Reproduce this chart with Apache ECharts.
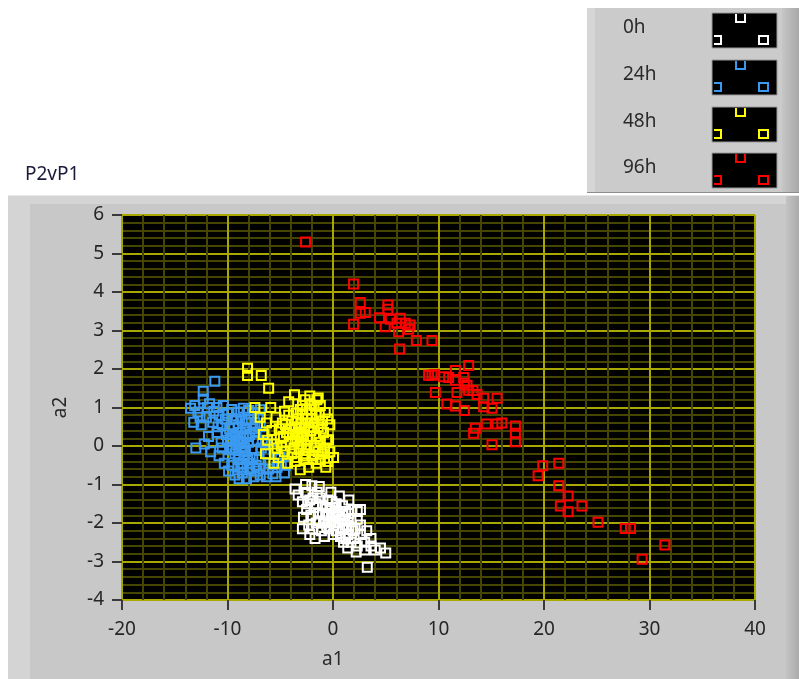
<!DOCTYPE html>
<html>
<head>
<meta charset="utf-8">
<script src="https://cdn.jsdelivr.net/npm/echarts@6/dist/echarts.min.js"></script>
<style>
html,body{margin:0;padding:0;background:#fff;}
#c{width:799px;height:679px;}
</style>
</head>
<body>
<div id="c"></div>
<script>
var seriesNames = ['0h', '24h', '48h', '96h'];
var seriesColors = ['#ffffff', '#3a9af2', '#ffff00', '#ff0000'];

var pts0h = [
[-3.6,-1.12],[-2.0,-1.03],[-3.3,-1.27],[-2.6,-1.2],[-1.5,-1.2],[-2.9,-1.45],[-2.2,-1.4],[-1.2,-1.35],[-0.5,-1.4],
[-2.5,-1.65],[-1.8,-1.6],[-1.0,-1.55],[-0.3,-1.6],[0.3,-1.5],[0.9,-1.55],[-2.8,-1.85],[-2.1,-1.8],[-1.4,-1.75],
[-0.7,-1.8],[0.0,-1.75],[0.6,-1.8],[1.2,-1.7],[1.8,-1.65],[2.3,-1.7],[-2.9,-2.15],[-2.3,-2.05],[-1.6,-2.0],
[-0.9,-2.0],[-0.2,-1.95],[0.5,-2.0],[1.1,-1.95],[1.7,-1.9],[2.3,-1.9],[-2.2,-2.3],[-1.7,-2.4],[-1.1,-2.2],
[-0.4,-2.15],[0.3,-2.2],[0.9,-2.15],[1.5,-2.1],[2.1,-2.15],[2.6,-2.05],[-0.8,-2.35],[0.0,-2.3],[0.7,-2.35],
[1.4,-2.3],[2.0,-2.4],[2.6,-2.3],[1.0,-2.5],[1.7,-2.5],[2.3,-2.6],[3.0,-2.5],[3.6,-2.4],[1.4,-2.65],
[2.2,-2.75],[3.0,-2.7],[3.6,-2.6],[4.0,-2.7],[4.5,-2.65],[5.0,-2.78],[3.25,-3.15],[-1.3,-1.05],[-0.2,-1.2],
[0.6,-1.3],[1.5,-1.4],[-2.6,-1.0],[-1.9,-2.15],[-0.6,-1.6],[0.3,-1.85],[1.3,-2.05],[2.6,-1.65],[3.2,-2.2],
[-1.6,-1.5],[-1.0,-1.75],[-0.4,-1.8],[0.2,-1.6],[0.9,-1.8],[-1.3,-1.95],[-0.6,-2.1],[0.1,-2.05],[0.8,-1.9],
[1.5,-1.75],[-1.9,-1.35],[-2.4,-1.5],[1.9,-2.2],[1.2,-2.4],[-0.1,-1.45],[0.5,-1.7]
];

var pts24h = [
[-11.2,1.68],[-12.3,1.42],[-12.3,1.22],[-13.1,1.05],[-13.5,0.98],[-12.8,0.88],[-11.7,1.1],[-11.0,1.0],[-10.4,1.05],
[-12.0,0.75],[-13.2,0.62],[-12.5,0.55],[-11.4,0.62],[-10.8,0.8],[-10.2,0.7],[-9.6,0.95],[-9.0,0.88],[-8.5,0.98],
[-8.0,0.92],[-7.5,0.85],[-7.1,0.75],[-9.8,0.45],[-11.0,0.35],[-11.8,0.25],[-12.2,0.05],[-13.0,-0.05],[-11.6,-0.15],
[-10.8,-0.25],[-10.0,0.15],[-9.4,0.55],[-8.8,0.35],[-8.2,0.6],[-7.6,0.45],[-6.9,0.5],[-6.5,0.3],[-7.2,0.15],
[-8.0,0.1],[-8.7,-0.05],[-9.3,-0.2],[-9.0,-0.35],[-8.4,-0.25],[-7.7,-0.1],[-6.8,-0.05],[-6.2,-0.2],[-5.6,-0.1],
[-5.0,-0.3],[-4.5,-0.5],[-4.6,-0.7],[-5.3,-0.55],[-6.0,-0.45],[-6.6,-0.6],[-7.3,-0.5],[-7.9,-0.6],[-8.6,-0.7],
[-9.3,-0.75],[-9.9,-0.65],[-10.3,-0.45],[-9.6,-0.5],[-8.9,-0.85],[-8.2,-0.85],[-7.5,-0.8],[-6.9,-0.75],[-6.3,-0.8],
[-5.7,-0.72],[-10.6,0.1],[-9.1,0.1],[-8.5,0.2],[-7.9,0.3],[-9.5,-0.05],[-8.9,-0.25],[-9.2,0.7],[-10.1,0.3],
[-8.6,-0.45],[-8.1,-0.35],[-9.0,-0.55],[-7.6,-0.3],[-9.3,0.25],[-8.3,0.45],[-7.0,-0.35],[-6.4,0.05],[-6.9,0.94],
[-9.8,-0.1],[-9.5,0.3],[-9.0,0.5],[-8.6,0.65],[-8.0,0.7],[-7.4,0.6],[-10.5,0.55],[-10.0,0.85],[-9.6,0.7],
[-8.4,-0.05],[-7.9,-0.45],[-7.2,-0.65],[-8.5,-0.55],[-9.0,0.15],[-8.2,0.25],[-7.3,0.35],[-6.7,0.1],[-6.1,-0.6],
[-5.4,-0.8],[-4.9,-0.45],[-10.9,0.5],[-11.3,0.9],[-12.6,0.75],[-11.9,1.0],[-10.5,-0.05],[-9.7,0.2],[-8.8,0.05],
[-8.3,-0.15],[-9.2,-0.1],[-8.7,0.1]
];

var pts48h = [
[-8.1,2.02],[-8.1,1.83],[-6.8,1.83],[-6.1,1.5],[-7.4,1.0],[-6.9,0.75],[-6.3,0.6],[-5.8,0.4],[-5.4,0.75],
[-4.8,0.6],[-4.2,1.15],[-3.65,1.33],[-3.1,0.95],[-2.64,1.2],[-2.2,1.3],[-1.53,1.2],[-1.2,1.05],[-0.74,0.87],
[-1.6,0.8],[-2.4,0.7],[-3.0,0.6],[-3.6,0.5],[-4.4,0.35],[-5.0,0.2],[-5.6,0.05],[-6.2,0.15],[-6.6,0.3],
[-4.0,0.1],[-3.4,0.2],[-2.8,0.3],[-2.1,0.4],[-1.4,0.5],[-0.9,0.35],[-0.42,0.16],[-1.2,0.1],[-1.8,0.0],
[-2.5,-0.05],[-3.2,-0.1],[-3.9,-0.2],[-4.6,-0.15],[-5.2,-0.3],[-4.3,-0.45],[-3.6,-0.4],[-3.1,-0.62],[-2.7,-0.35],
[-2.0,-0.25],[-1.4,-0.15],[-0.8,-0.05],[0.05,-0.3],[-0.5,-0.4],[-0.68,-0.55],[-1.6,-0.45],[-2.3,-0.55],[-3.5,0.85],
[-2.9,1.05],[-4.6,0.9],[-5.9,1.0],[-2.0,0.95],[-1.0,0.65],[-0.3,0.55],[-1.8,0.6],[-2.7,0.45],[-3.3,0.35],
[-3.9,0.65],[-4.5,0.55],[-5.1,0.45],[-2.4,0.15],[-3.0,0.05],[-1.6,0.25],[-0.6,0.15],[-3.7,-0.05],[-4.9,0.0],
[-5.6,-0.45],[-6.4,-0.2],[-2.6,-0.2],[-1.2,-0.35],[-2.9,0.8],[-2.2,1.1],[-1.4,1.25],
[-3.8,0.3],[-3.2,0.45],[-2.6,0.6],[-2.0,0.7],[-1.3,0.8],[-3.4,0.7],[-2.5,0.95],[-1.8,1.05],[-4.2,0.8],
[-2.2,0.25],[-1.6,-0.05],[-2.8,-0.25],[-3.4,-0.3],[-1.0,-0.2],[-0.3,-0.15],[-1.9,-0.35],[-4.1,0.45],[-5.3,-0.05],
[-4.7,0.25],[-1.1,0.45],[-0.5,0.7],[-2.3,0.5],[-3.0,0.25],[-3.6,0.15]
];

var pts96h = [
[-2.6,5.3],[1.95,4.21],[2.58,3.73],[3.06,3.47],[2.58,3.45],[1.95,3.16],[5.2,3.66],[5.2,3.55],[4.41,3.33],
[4.95,3.1],[5.43,3.29],[6.06,3.19],[6.37,3.32],[6.85,3.19],[7.32,3.14],[6.22,2.97],[7.17,3.03],[7.9,2.74],
[9.38,2.74],[6.3,2.52],
[12.86,2.09],[9.38,1.84],[9.06,1.84],[9.63,1.86],[10.49,1.8],[10.96,1.78],[11.6,1.96],[11.6,1.71],[12.39,1.78],
[12.45,1.63],[12.7,1.58],[12.86,1.45],[9.7,1.39],[11.75,1.39],[13.27,1.44],[13.65,1.34],[14.28,1.24],[15.55,1.24],
[10.8,1.09],[11.6,1.04],[12.45,0.92],[14.28,1.02],[15.07,0.98],[14.53,0.57],[15.55,0.57],[16.0,0.6],[13.49,0.46],
[13.33,0.33],[17.29,0.52],[17.29,0.33],[17.29,0.11],[15.07,0.03],
[19.88,-0.51],[19.44,-0.77],[21.4,-0.45],[21.4,-1.03],[22.28,-1.3],[21.55,-1.56],[22.28,-1.71],[23.6,-1.56],
[25.12,-1.98],[27.7,-2.14],[28.2,-2.14],[31.45,-2.57],[29.3,-2.94]
];

var allPts = [pts0h, pts24h, pts48h, pts96h];

var FONT = 'Noto Sans';
var chart = echarts.init(document.getElementById('c'), null, {renderer: 'canvas'});

var graphics = [
  {type:'rect', z:-10, shape:{x:8,y:195,width:791,height:484}, style:{fill:'#d4d4d4'}},
  {type:'rect', z:-9, shape:{x:30,y:204,width:756,height:475}, style:{fill:'#c8c8c8'}},
  {type:'rect', z:-9, shape:{x:786,y:195,width:13,height:484},
   style:{fill:new echarts.graphic.LinearGradient(0,0,1,0,[{offset:0,color:'#c4c4c4'},{offset:1,color:'#ababab'}])}},
  {type:'line', z:-8, shape:{x1:8,y1:195.5,x2:799,y2:195.5}, style:{stroke:'#e8e8e8',lineWidth:1}},
  {type:'rect', z:-10, shape:{x:587,y:8,width:212,height:185}, style:{fill:'#cbcbcb'}},
  {type:'rect', z:-9, shape:{x:587,y:8,width:8,height:185}, style:{fill:'#d6d6d6'}},
  {type:'rect', z:-9, shape:{x:782,y:8,width:17,height:185},
   style:{fill:new echarts.graphic.LinearGradient(0,0,1,0,[{offset:0,color:'#c6c6c6'},{offset:1,color:'#a8a8a8'}])}},
  {type:'line', z:-8, shape:{x1:587,y1:192.5,x2:799,y2:192.5}, style:{stroke:'#8c8c8c',lineWidth:1}},
  {type:'text', left:25, top:165, style:{text:'P2vP1', fill:'#1a1a3a', font:'19px "' + FONT + '"'}},
  {type:'text', left:322, top:650, style:{text:'a1', fill:'#2a2a2a', font:'19px "' + FONT + '"'}}
];

var swTop = [13, 60, 107, 153];
for (var i = 0; i < seriesNames.length; i++) {
  var sx = 712, sy = swTop[i], col = seriesColors[i];
  graphics.push({type:'text', left:623, top:sy + 5, style:{text:seriesNames[i], fill:'#2a2a2a', font:'19px "' + FONT + '"'}});
  graphics.push({type:'rect', shape:{x:sx,y:sy,width:65,height:35}, style:{fill:'#000', stroke:'#9a9a9a', lineWidth:1}});
  graphics.push({type:'polyline', shape:{points:[[sx+24,sy+1],[sx+24,sy+9],[sx+33,sy+9],[sx+33,sy+1]]}, style:{stroke:col, lineWidth:2, fill:null}});
  graphics.push({type:'polyline', shape:{points:[[sx+2,sy+23],[sx+9,sy+23],[sx+9,sy+31],[sx+2,sy+31]]}, style:{stroke:col, lineWidth:2, fill:null}});
  graphics.push({type:'rect', shape:{x:sx+47,y:sy+23,width:9,height:8}, style:{stroke:col, lineWidth:2, fill:null}});
}

var series = [];
for (var k = 0; k < allPts.length; k++) {
  series.push({
    name: seriesNames[k],
    type: 'scatter',
    data: allPts[k],
    symbol: 'rect',
    symbolSize: 9,
    itemStyle: {color: 'rgba(0,0,0,0)', borderColor: seriesColors[k], borderWidth: 2, opacity: 1},
    emphasis: {disabled: true},
    z: 5 + k
  });
}

var axisLabelStyle = {color:'#262626', fontSize:19, fontFamily:FONT};

chart.setOption({
  animation: false,
  backgroundColor: '#ffffff',
  graphic: graphics,
  grid: {left:122, top:215, width:633, height:385, show:true, backgroundColor:'#000', borderColor:'#000', borderWidth:0},
  xAxis: {
    type:'value', min:-20, max:40, interval:10,
    axisLine:{show:false, onZero:false},
    axisTick:{show:true, length:10, inside:false, lineStyle:{color:'#3a3a3a', width:2}},
    axisLabel:Object.assign({margin:20}, axisLabelStyle),
    splitLine:{show:true, lineStyle:{color:'#a8a800', width:2}},
    minorTick:{show:false, splitNumber:5},
    minorSplitLine:{show:true, lineStyle:{color:'#464600', width:2}}
  },
  yAxis: {
    type:'value', min:-4, max:6, interval:1,
    name:'a2', nameLocation:'middle', nameGap:52, nameRotate:90,
    nameTextStyle:{color:'#262626', fontSize:19, fontFamily:FONT},
    axisLine:{show:false, onZero:false},
    axisTick:{show:true, length:10, inside:false, lineStyle:{color:'#3a3a3a', width:2}},
    axisLabel:Object.assign({margin:18}, axisLabelStyle),
    splitLine:{show:true, lineStyle:{color:'#a8a800', width:2}},
    minorTick:{show:false, splitNumber:5},
    minorSplitLine:{show:true, lineStyle:{color:'#464600', width:2}}
  },
  series: series
});
</script>
</body>
</html>
